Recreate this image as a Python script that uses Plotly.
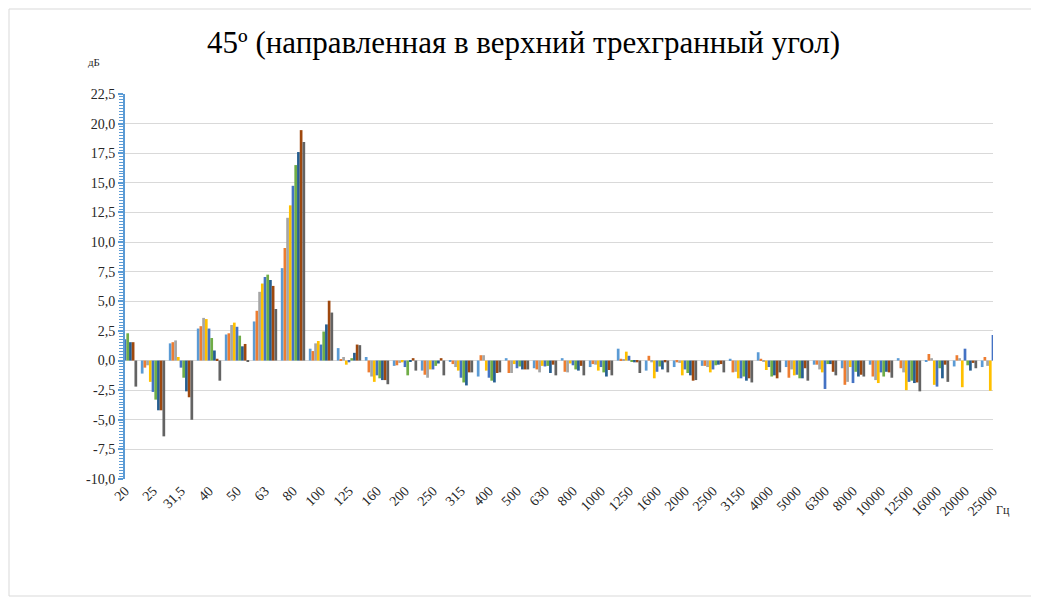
import plotly.graph_objects as go

# частоты (Гц), третьоктавные полосы
freqs = ["20", "25", "31,5", "40", "50", "63", "80", "100", "125", "160", "200", "250",
         "315", "400", "500", "630", "800", "1000", "1250", "1600", "2000", "2500",
         "3150", "4000", "5000", "6300", "8000", "10000", "12500", "16000", "20000", "25000"]

# значения, дБ (9 серий)
s1 = [1.0, -1.1, 1.45, 2.7, 2.2, 3.3, 7.8, 1.0, 1.05, 0.3, -0.45, -0.85, -0.1, -1.35, 0.2, -0.65,
      0.2, -0.55, 1.0, -0.85, -0.55, -0.45, 0.15, 0.7, -0.55, -0.35, -0.65, -0.35, 0.2, -0.05, -0.5, -0.55]
s2 = [0.5, -0.6, 1.55, 2.9, 2.3, 4.2, 9.5, 0.8, 0.1, -1.0, -0.4, -1.2, -0.3, 0.45, -1.05, -0.75,
      -0.95, -0.3, 0.15, 0.4, -0.15, -0.45, -1.0, 0.15, -1.45, -0.35, -2.05, -1.35, -0.65, 0.55, 0.45, 0.3]
s3 = [0.8, -0.4, 1.7, 3.6, 3.0, 5.8, 12.05, 1.45, 0.3, -1.35, -0.2, -1.45, -0.55, 0.45, -1.05, -1.0,
      -1.0, -0.35, 0.05, -0.15, -0.2, -0.55, -0.95, -0.05, -0.75, -0.75, -1.8, -1.65, -1.0, 0.2, 0.2, -0.45]
s4 = [1.2, -1.8, 0.3, 3.5, 3.2, 6.5, 13.1, 1.65, -0.35, -1.8, -0.15, -0.75, -0.85, -0.85, -0.3, -0.45,
      -0.25, -0.85, 0.75, -1.5, -1.25, -1.0, -1.5, -0.8, -1.25, -1.0, -0.55, -1.9, -2.5, -2.05, -2.25, -2.55]
s5 = [1.8, -2.65, -0.6, 2.7, 2.85, 7.05, 14.75, 1.35, -0.15, -1.25, -0.55, -0.75, -1.45, -1.45, -0.65, -0.5,
      -0.4, -0.55, 0.4, -0.95, -0.75, -0.75, -1.5, -0.55, -1.2, -2.4, -1.9, -1.0, -1.8, -2.2, 1.0, 2.15]
s6 = [2.3, -3.3, -1.45, 1.9, 2.1, 7.25, 16.5, 2.45, 0.2, -1.5, -1.25, -0.45, -1.85, -1.7, -0.5, -0.45,
      -0.75, -1.0, -0.1, -0.5, -1.05, -0.4, -1.35, -1.35, -1.5, -0.3, -0.95, -1.35, -1.7, -0.65, -0.4, -0.5]
s7 = [1.55, -4.2, -2.6, 0.85, 1.2, 6.8, 17.6, 3.05, 0.65, -1.65, -0.1, -0.25, -2.1, -1.85, -0.75, -1.05,
      -0.85, -1.35, -0.15, -0.75, -1.25, -0.35, -1.7, -1.25, -1.5, -0.3, -1.35, -0.95, -1.9, -1.5, -0.85, -0.8]
s8 = [1.55, -4.2, -3.1, 0.15, 1.4, 6.3, 19.45, 5.05, 1.35, -1.65, 0.2, 0.2, -1.0, -1.05, -0.75, -0.35,
      -0.45, -0.8, -0.15, -0.15, -1.7, -0.3, -1.5, -1.5, -0.65, -0.95, -1.2, -1.0, -1.85, -0.35, -0.2, -0.3]
s9 = [-2.2, -6.4, -5.0, -1.7, -0.1, 4.35, 18.45, 4.05, 1.3, -2.0, -0.85, -1.25, -1.0, -1.0, -0.75, -1.25,
      -1.25, -1.25, -1.05, -1.0, -1.65, -1.0, -1.85, -1.0, -1.7, -1.25, -1.35, -1.45, -2.6, -1.8, -0.65, -1.0]

series = [s1, s2, s3, s4, s5, s6, s7, s8, s9]
colors = ["#5B9BD5", "#ED7D31", "#A5A5A5", "#FFC000", "#4472C4",
          "#70AD47", "#255E91", "#9E480E", "#636363"]

y_ticks = [-10, -7.5, -5, -2.5, 0, 2.5, 5, 7.5, 10, 12.5, 15, 17.5, 20, 22.5]
y_labels = [f"{v:.1f}".replace(".", ",") for v in y_ticks]

# страница имеет отступ 8px, поэтому фигура чуть меньше окна
OFF = 8
W, H = 1039 - OFF, 599 - OFF
L, R, T, B = 125 - OFF, 46, 94 - OFF, 120
pw, ph = W - L - R, H - T - B

font = "Liberation Serif"

fig = go.Figure()
x = list(range(len(freqs)))
for i, s in enumerate(series):
    fig.add_trace(go.Bar(x=x, y=s, name=f"Серия {i + 1}", marker=dict(color=colors[i], line=dict(width=0))))

fig.update_layout(
    width=W, height=H,
    margin=dict(l=L, r=R, t=T, b=B),
    paper_bgcolor="white", plot_bgcolor="white",
    barmode="group", bargap=0.13, bargroupgap=0,
    showlegend=False,
    font=dict(family=font, color="#262626", size=14),
    title=dict(text="45º (направленная в верхний трехгранный угол)",
               x=0.5, xanchor="center", y=1 - (42 - OFF) / H, yanchor="middle",
               font=dict(family=font, size=31, color="#000000")),
)

fig.update_xaxes(
    range=[0, len(freqs) - 1], tickmode="array", tickvals=x, ticktext=freqs,
    tickangle=-45, showgrid=False, zeroline=False, showline=False, ticks="",
    tickfont=dict(family=font, size=14),
)
fig.update_yaxes(
    range=[-10, 22.5], tickmode="array", tickvals=y_ticks, ticktext=y_labels,
    showgrid=True, gridcolor="#D9D9D9", gridwidth=1.3,
    zeroline=True, zerolinecolor="#D9D9D9", zerolinewidth=1.3,
    showline=True, linecolor="#5B9BD5", linewidth=2,
    ticks="outside", ticklen=5, tickcolor="#5B9BD5", tickwidth=1.5,
    minor=dict(tick0=0, dtick=0.25, ticks="outside", ticklen=4, tickcolor="#5B9BD5", tickwidth=1.2, showgrid=False),
    tickfont=dict(family=font, size=14),
)

fig.add_annotation(text="дБ", xref="paper", yref="paper", x=(86 - 125) / pw, y=(479 - 54) / ph,
                   showarrow=False, font=dict(family=font, size=11, color="#262626"))
fig.add_annotation(text="Гц", xref="paper", yref="paper", x=(1012 - 125) / pw, y=(479 - 519) / ph,
                   showarrow=False, font=dict(family=font, size=12, color="#262626"))

# рамка вокруг всей диаграммы
fig.add_shape(type="rect", xref="paper", yref="paper",
              x0=(1 - L) / pw, x1=(W - 3 - L) / pw, y0=(T + ph - (H - 3)) / ph, y1=(T + ph - 1) / ph,
              line=dict(color="#D9D9D9", width=1), layer="below")

fig.write_html("out.html")
